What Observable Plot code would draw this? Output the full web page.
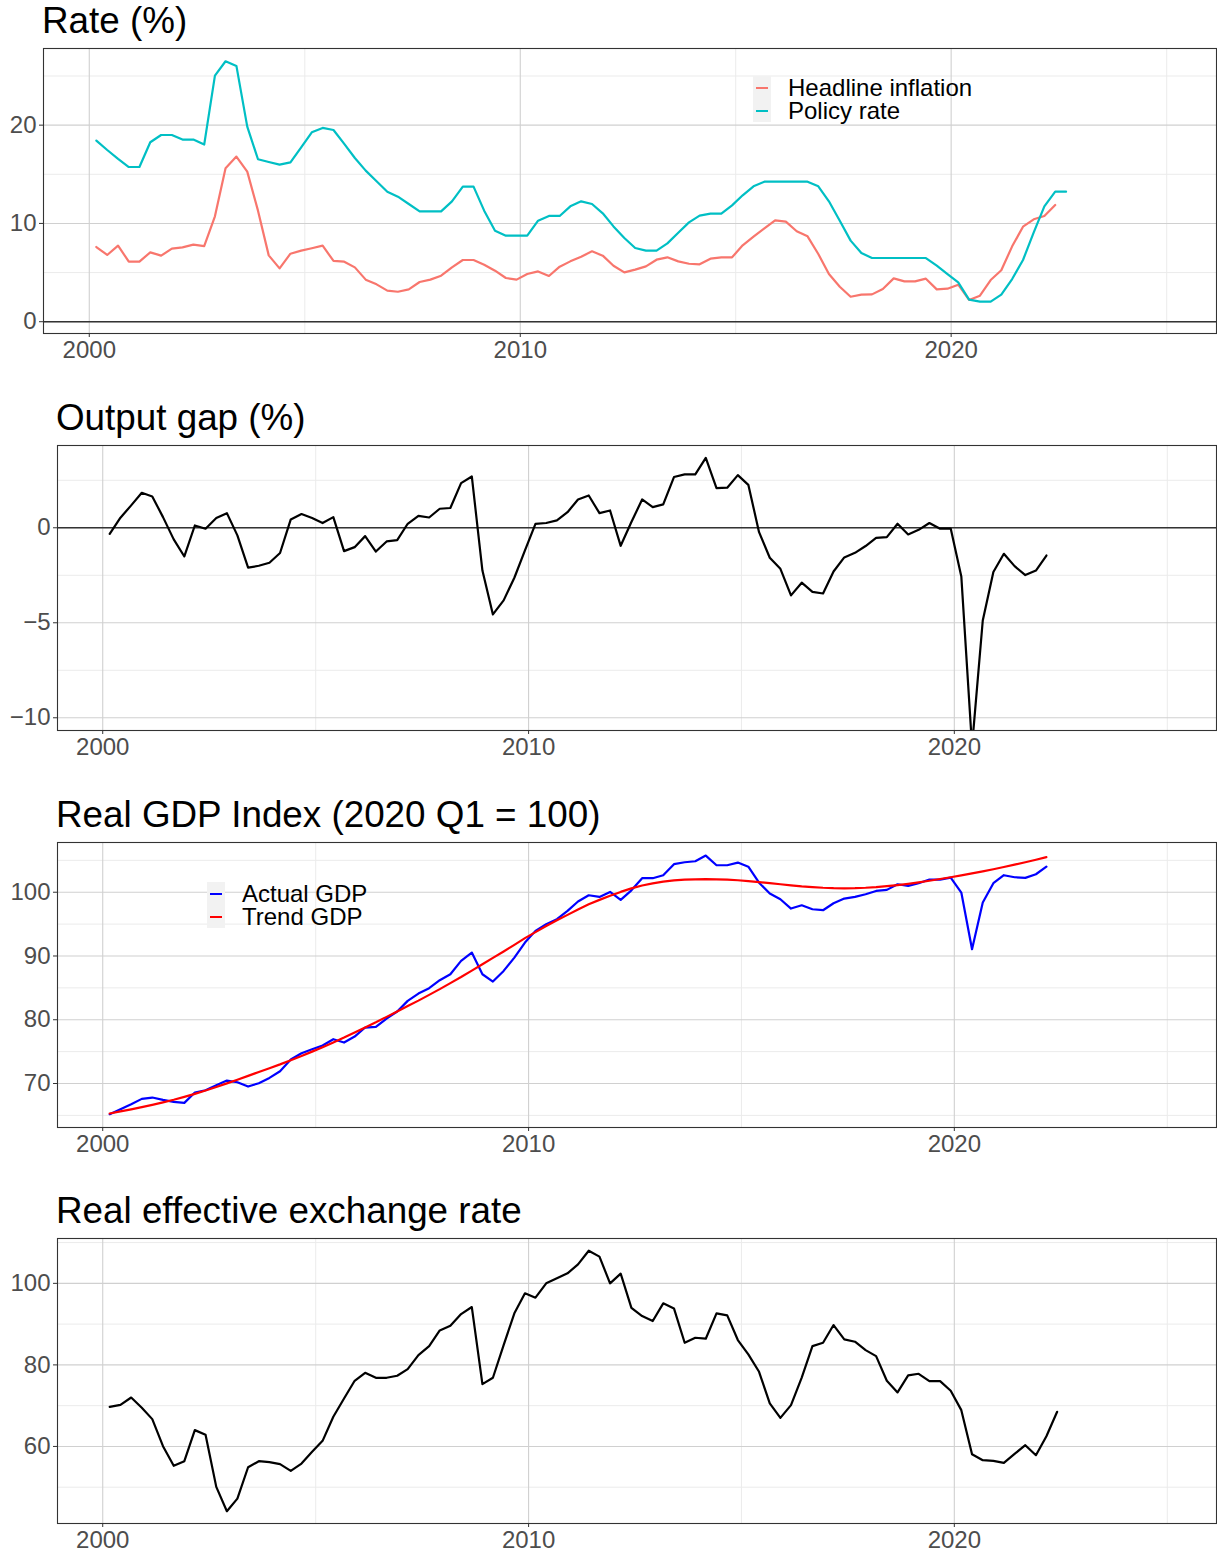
<!DOCTYPE html>
<html><head><meta charset="utf-8">
<script src="https://cdn.jsdelivr.net/npm/d3@7"></script>
<script src="https://cdn.jsdelivr.net/npm/@observablehq/plot@0.6"></script>
<style>
body{margin:0;background:#fff;font-family:"Liberation Sans",Arial,Helvetica,sans-serif;}
#root{position:relative;width:1217px;height:1553px;overflow:hidden;background:#fff;}
.panel{position:absolute;left:0;}
.title{position:absolute;font-size:36.8px;line-height:36.8px;color:#000;white-space:nowrap;}
.legend{position:absolute;}
.legend .keybg{position:absolute;left:0;top:0;width:18px;background:#f2f2f2;}
.legend .row{position:absolute;left:0;height:23px;width:300px;}
.legend .key{position:absolute;left:3px;top:10.5px;width:12px;height:2px;}
.legend .lab{position:absolute;left:35px;top:1px;font-size:24px;line-height:21px;color:#000;white-space:nowrap;}
</style>
</head><body><div id="root"></div>
<script>
// ---------- data (quarterly, first observation 2000 Q1) ----------
const startQuarter = "2000-03-01";

const policyRate = [18.43,17.47,16.56,15.74,15.74,18.26,19.0,19.0,18.53,18.53,
  18.02,25.04,26.5,26.03,19.85,16.53,16.25,15.98,16.22,17.75,
  19.27,19.72,19.51,18.09,16.66,15.37,14.29,13.23,12.72,11.98,
  11.23,11.23,11.23,12.25,13.74,13.74,11.3,9.26,8.75,8.75,
  8.75,10.28,10.76,10.76,11.74,12.25,11.98,11.03,9.7,8.52,
  7.5,7.23,7.23,7.97,9.06,10.11,10.79,10.99,10.99,11.84,
  12.86,13.78,14.25,14.25,14.25,14.25,14.25,13.78,12.25,10.28,
  8.25,6.99,6.48,6.48,6.48,6.48,6.48,6.48,5.7,4.85,
  4.0,2.24,2.04,2.04,2.75,4.34,6.28,9.09,11.74,13.23,13.23];

const headlineInflation = [7.6,6.79,7.74,6.11,6.11,7.06,6.72,7.43,7.57,7.84,
  7.7,10.72,15.61,16.8,15.27,11.3,6.75,5.43,6.92,7.23,
  7.47,7.74,6.18,6.11,5.53,4.28,3.8,3.16,3.05,3.29,
  4.04,4.28,4.68,5.53,6.28,6.28,5.8,5.19,4.45,4.28,
  4.85,5.12,4.65,5.6,6.14,6.62,7.16,6.72,5.7,5.02,
  5.3,5.63,6.31,6.55,6.14,5.9,5.84,6.41,6.55,6.55,
  7.77,8.65,9.5,10.32,10.18,9.2,8.69,6.89,4.85,3.56,
  2.54,2.75,2.78,3.33,4.41,4.1,4.1,4.38,3.29,3.36,
  3.77,2.21,2.65,4.24,5.23,7.67,9.67,10.42,10.76,11.88];

const outputGap = [-0.32,0.53,1.18,1.84,1.65,0.56,-0.61,-1.51,0.12,-0.05,
  0.51,0.77,-0.4,-2.1,-2.0,-1.84,-1.33,0.44,0.72,0.51,
  0.25,0.56,-1.23,-1.02,-0.44,-1.25,-0.72,-0.65,0.21,0.63,
  0.54,1.0,1.04,2.35,2.7,-2.25,-4.56,-3.82,-2.63,-1.19,
  0.21,0.25,0.39,0.82,1.49,1.7,0.77,0.91,-0.95,0.3,
  1.49,1.09,1.23,2.67,2.81,2.81,3.68,2.09,2.11,2.77,
  2.26,-0.23,-1.58,-2.16,-3.56,-2.89,-3.37,-3.46,-2.3,-1.56,
  -1.32,-0.96,-0.53,-0.49,0.21,-0.35,-0.11,0.25,-0.05,-0.04,
  -2.56,-11.5,-4.88,-2.33,-1.37,-2.02,-2.49,-2.25,-1.46];

const actualGDP = [65.19,65.97,66.75,67.59,67.8,67.43,67.12,66.96,68.58,68.95,
  69.73,70.46,70.2,69.52,70.05,70.88,71.93,73.76,74.75,75.38,
  75.95,76.95,76.42,77.36,78.78,78.88,80.19,81.29,82.96,84.11,
  84.95,86.2,87.14,89.23,90.54,87.14,85.99,87.66,89.75,92.11,
  93.94,94.98,95.77,97.07,98.54,99.53,99.27,100.05,98.8,100.3,
  102.2,102.2,102.67,104.4,104.7,104.86,105.75,104.23,104.23,104.65,
  104.0,101.5,99.79,98.9,97.44,97.96,97.33,97.18,98.27,99.0,
  99.27,99.69,100.2,100.37,101.25,100.99,101.41,101.99,101.99,102.3,
  99.95,91.06,98.38,101.41,102.67,102.35,102.25,102.82,104.0];

const trendGDP = [65.3,65.62,65.95,66.3,66.66,67.04,67.45,67.9,68.38,68.9,
  69.45,70.02,70.6,71.2,71.8,72.4,73.0,73.65,74.3,75.0,
  75.7,76.45,77.2,78.0,78.8,79.6,80.45,81.3,82.15,83.0,
  83.9,84.8,85.75,86.7,87.7,88.7,89.7,90.7,91.75,92.8,
  93.75,94.7,95.6,96.45,97.3,98.1,98.8,99.45,100.05,100.6,
  101.05,101.4,101.65,101.85,101.97,102.03,102.05,102.03,101.97,101.88,
  101.75,101.6,101.43,101.25,101.08,100.92,100.8,100.7,100.64,100.62,
  100.64,100.7,100.8,100.95,101.12,101.32,101.55,101.8,102.07,102.35,
  102.65,102.95,103.27,103.6,103.95,104.32,104.7,105.1,105.5];

const reer = [69.72,70.2,72.0,69.5,66.7,60.07,55.24,56.38,64.0,62.85,
  50.08,44.11,47.2,54.9,56.38,56.14,55.65,54.0,55.8,58.67,
  61.37,67.27,71.77,76.1,78.07,76.84,76.84,77.33,78.97,82.4,
  84.6,88.46,89.6,92.47,94.19,75.29,76.84,84.86,92.64,97.55,
  96.48,100.0,101.23,102.45,104.66,108.0,106.55,100.0,102.37,94.0,
  91.98,90.75,95.1,93.86,85.43,86.66,86.42,92.64,92.14,86.1,
  82.57,78.31,70.54,67.0,70.13,76.9,84.6,85.43,89.77,86.25,
  85.68,83.63,82.16,76.1,73.24,77.41,77.82,76.02,76.02,73.65,
  68.9,58.1,56.63,56.46,55.97,58.18,60.31,57.85,62.5,68.5];

const titles = ["Rate (%)", "Output gap (%)", "Real GDP Index (2020 Q1 = 100)", "Real effective exchange rate"];
const rateSeries = ["Headline inflation", "Policy rate"];
const rateColors = ["#F8766D", "#00BFC4"];
const gdpSeries = ["Actual GDP", "Trend GDP"];
const gdpColors = ["#0000FF", "#FF0000"];

const xMajorYears = [2000, 2010, 2020];
const xMinorYears = [2005, 2015, 2025];
const rateYMajor = [0, 10, 20], rateYMinor = [5, 15, 25];
const gapYMajor = [-10, -5, 0], gapYMinor = [-7.5, -2.5, 2.5];
const gdpYMajor = [70, 80, 90, 100], gdpYMinor = [65, 75, 85, 95, 105];
const reerYMajor = [60, 80, 100], reerYMinor = [50, 70, 90, 110];

// ---------- helpers ----------
const start = new Date(startQuarter + "T00:00:00Z");
const qDate = i => d3.utcMonth.offset(start, 3 * i);
const toRows = (vals, series) => vals.map((v, i) => ({date: qDate(i), value: v, series}));
const yearDate = y => new Date(Date.UTC(y, 0, 1));
const xMajor = xMajorYears.map(yearDate), xMinor = xMinorYears.map(yearDate);
const xDomain = [new Date(Date.UTC(1998, 11, 9)), new Date(Date.UTC(2026, 1, 27))];

const root = document.getElementById("root");
const panelTops = [0, 397, 794, 1190];

function panel(k, marginLeft, yDomain, yMajor, yMinor, dataMarks) {
  const top = panelTops[k];
  const t = document.createElement("div");
  t.className = "title";
  t.textContent = titles[k];
  t.style.left = (marginLeft - 1) + "px";
  t.style.top = (top + 3) + "px";
  root.appendChild(t);

  const svg = Plot.plot({
    width: 1217, height: 328,
    marginTop: 8, marginBottom: 35, marginLeft, marginRight: 1,
    x: {type: "utc", domain: xDomain, label: null},
    y: {domain: yDomain, label: null},
    style: {fontFamily: "'Liberation Sans', Arial, sans-serif", fontSize: "24px", color: "#4d4d4d", background: "transparent"},
    marks: [
      Plot.gridY(yMinor, {stroke: "#ebebeb", strokeOpacity: 1, strokeWidth: 1}),
      Plot.gridX(xMinor, {stroke: "#ebebeb", strokeOpacity: 1, strokeWidth: 1}),
      Plot.gridY(yMajor, {stroke: "#d0d0d0", strokeOpacity: 1, strokeWidth: 1.1}),
      Plot.gridX(xMajor, {stroke: "#d0d0d0", strokeOpacity: 1, strokeWidth: 1.1}),
      ...dataMarks,
      Plot.frame({stroke: "#333333", strokeWidth: 1.1}),
      Plot.axisX({ticks: xMajor, tickFormat: d3.utcFormat("%Y"), tickSize: 4, tickPadding: 3, fontSize: 24, stroke: "#333", fill: "#4d4d4d"}),
      Plot.axisY({ticks: yMajor, tickSize: 4, tickPadding: 3, fontSize: 24, stroke: "#333", fill: "#4d4d4d"})
    ]
  });
  svg.classList.add("panel");
  svg.style.top = (top + 40) + "px";
  root.appendChild(svg);
}

function legend(left, top, names, colors) {
  const g = document.createElement("div");
  g.className = "legend";
  g.style.left = left + "px";
  g.style.top = top + "px";
  const bg = document.createElement("div");
  bg.className = "keybg";
  bg.style.height = (23 * names.length) + "px";
  g.appendChild(bg);
  names.forEach((n, i) => {
    const r = document.createElement("div");
    r.className = "row";
    r.style.top = (23 * i) + "px";
    const k = document.createElement("div");
    k.className = "key";
    k.style.background = colors[i];
    const l = document.createElement("div");
    l.className = "lab";
    l.textContent = n;
    r.appendChild(k); r.appendChild(l);
    g.appendChild(r);
  });
  root.appendChild(g);
}

// Panel 1: rates
const rateRows = [...toRows(headlineInflation, rateSeries[0]), ...toRows(policyRate, rateSeries[1])];
panel(0, 43, [-1.2, 27.8], rateYMajor, rateYMinor, [
  Plot.ruleY([0], {stroke: "#333", strokeWidth: 1.5}),
  Plot.line(rateRows, {x: "date", y: "value", z: "series",
    stroke: d => rateColors[rateSeries.indexOf(d.series)], strokeWidth: 2.2})
]);
legend(753, 76, rateSeries, rateColors);

// Panel 2: output gap
panel(1, 57, [-10.67, 4.33], gapYMajor, gapYMinor, [
  Plot.ruleY([0], {stroke: "#333", strokeWidth: 1.3}),
  Plot.line(toRows(outputGap, "gap"), {x: "date", y: "value", stroke: "#000", strokeWidth: 2.2, clip: true})
]);

// Panel 3: GDP
const gdpRows = [...toRows(actualGDP, gdpSeries[0]), ...toRows(trendGDP, gdpSeries[1])];
panel(2, 57, [63.1, 107.8], gdpYMajor, gdpYMinor, [
  Plot.line(gdpRows, {x: "date", y: "value", z: "series",
    stroke: d => gdpColors[gdpSeries.indexOf(d.series)], strokeWidth: 2.2})
]);
legend(207, 882, gdpSeries, gdpColors);

// Panel 4: REER
panel(3, 57, [41.1, 111], reerYMajor, reerYMinor, [
  Plot.line(toRows(reer, "reer"), {x: "date", y: "value", stroke: "#000", strokeWidth: 2.2})
]);
</script>
</body></html>
